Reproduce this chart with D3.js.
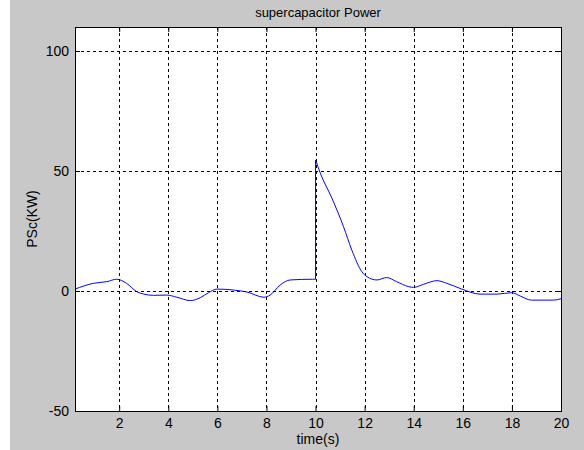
<!DOCTYPE html>
<html>
<head>
<meta charset="utf-8">
<script src="https://cdn.jsdelivr.net/npm/d3@7"></script>
<style>
  body { margin: 0; background: #fff; }
  text { font-family: "Liberation Sans", Arial, Helvetica, sans-serif; font-size: 14px; fill: #000; }
</style>
</head>
<body>
<div id="chart"></div>
<script>
// Data
const time = [0.2, 0.95, 1.5, 1.9, 2.3, 2.72, 3.0, 3.4, 3.94, 4.35, 4.9, 5.3, 5.64, 5.98, 6.66, 7.2, 7.9, 8.15, 8.56, 8.97, 9.88,
  10, 10, 10, 10, 10.19, 10.67, 11.14, 11.48, 11.89, 12.09, 12.5, 12.9, 13.3, 13.8, 14.0, 14.4, 14.95, 15.35, 15.96,
  16.7, 17.4, 18.0, 18.34, 18.8, 19.7, 20];
const psc = [0.8, 3.2, 3.9, 4.9, 3.2, -0.3, -1.3, -1.8, -1.7, -2.6, -4, -2.8, -0.7, 0.8, 0.4, -0.4, -2.6, -1.7, 2.5, 4.6, 4.9,
  4.9, 29.6, 28, 54.6, 49.2, 38.6, 26.8, 17, 8, 6, 4.6, 5.6, 3.9, 1.8, 1.5, 2.8, 4.3, 3.2, 0.8,
  -1.3, -1.3, -0.7, -2.1, -3.8, -3.8, -3.2];
const xTicks = [2, 4, 6, 8, 10, 12, 14, 16, 18, 20];
const yTicks = [-50, 0, 50, 100];

const width = 584, height = 450;
const margin = { left: 75, right: 23, top: 27, bottom: 39 };
const pw = width - margin.left - margin.right;
const ph = height - margin.top - margin.bottom;

const svg = d3.select('#chart').append('svg')
    .attr('width', width)
    .attr('height', height);

// figure background
svg.append('rect')
    .attr('x', 10).attr('y', 0)
    .attr('width', width - 10).attr('height', height)
    .attr('fill', '#c8c8c8');

const g = svg.append('g').attr('transform', `translate(${margin.left},${margin.top})`);

const x = d3.scaleLinear().domain([0.2, 20]).range([0, pw]);
const y = d3.scaleLinear().domain([-50, 110]).range([ph, 0]);

g.append('rect').attr('width', pw).attr('height', ph).attr('fill', '#fff');

// dotted grid
g.selectAll('.vgrid').data(xTicks).enter().append('line')
    .attr('x1', d => Math.round(x(d)) + 0.5).attr('x2', d => Math.round(x(d)) + 0.5)
    .attr('y1', 0).attr('y2', ph)
    .attr('stroke', '#000').attr('stroke-dasharray', '3,3');
g.selectAll('.hgrid').data(yTicks).enter().append('line')
    .attr('y1', d => Math.round(y(d)) + 0.5).attr('y2', d => Math.round(y(d)) + 0.5)
    .attr('x1', 0).attr('x2', pw)
    .attr('stroke', '#000').attr('stroke-dasharray', '3,3');

// axes with inward ticks
const fmt = d => String(d);
const xb = g.append('g').attr('transform', `translate(0,${ph})`)
    .call(d3.axisBottom(x).tickValues(xTicks).tickSizeInner(-5).tickSizeOuter(0).tickPadding(7).tickFormat(fmt));
const xt = g.append('g')
    .call(d3.axisTop(x).tickValues(xTicks).tickSizeInner(-5).tickSizeOuter(0).tickFormat(''));
const yl = g.append('g')
    .call(d3.axisLeft(y).tickValues(yTicks).tickSizeInner(-5).tickSizeOuter(0).tickPadding(6).tickFormat(fmt));
const yr = g.append('g').attr('transform', `translate(${pw},0)`)
    .call(d3.axisRight(y).tickValues(yTicks).tickSizeInner(-5).tickSizeOuter(0).tickFormat(''));
[xb, xt, yl, yr].forEach(a => {
    a.select('.domain').remove();
    a.selectAll('line').attr('stroke', '#000');
    a.selectAll('text').attr('font-family', null).attr('font-size', null);
});

// series: smooth before and after the step at t=10, straight through the step
const idx = d3.range(time.length);
const jumpStart = 21, jumpEnd = 24;
const segments = [
    { ids: idx.slice(0, jumpStart + 1), curve: d3.curveMonotoneX },
    { ids: idx.slice(jumpStart, jumpEnd + 1), curve: d3.curveLinear },
    { ids: idx.slice(jumpEnd), curve: d3.curveMonotoneX }
];
segments.forEach(s => {
    const line = d3.line()
        .x(i => x(time[i]))
        .y(i => y(psc[i]))
        .curve(s.curve);
    g.append('path')
        .datum(s.ids)
        .attr('d', line)
        .attr('fill', 'none')
        .attr('stroke', '#0000ff')
        .attr('stroke-width', 1);
});

// box
g.append('rect').attr('x', 0.5).attr('y', 0.5).attr('width', pw).attr('height', ph)
    .attr('fill', 'none').attr('stroke', '#000').attr('stroke-width', 1);

// labels
svg.append('text')
    .attr('x', margin.left + pw / 2).attr('y', 17)
    .attr('text-anchor', 'middle')
    .style('font-size', '13px')
    .text('supercapacitor Power');
svg.append('text')
    .attr('x', margin.left + pw / 2).attr('y', 444)
    .attr('text-anchor', 'middle')
    .text('time(s)');
svg.append('text')
    .attr('transform', `translate(37,${margin.top + ph / 2}) rotate(-90)`)
    .attr('text-anchor', 'middle')
    .text('PSc(KW)');
</script>
</body>
</html>
